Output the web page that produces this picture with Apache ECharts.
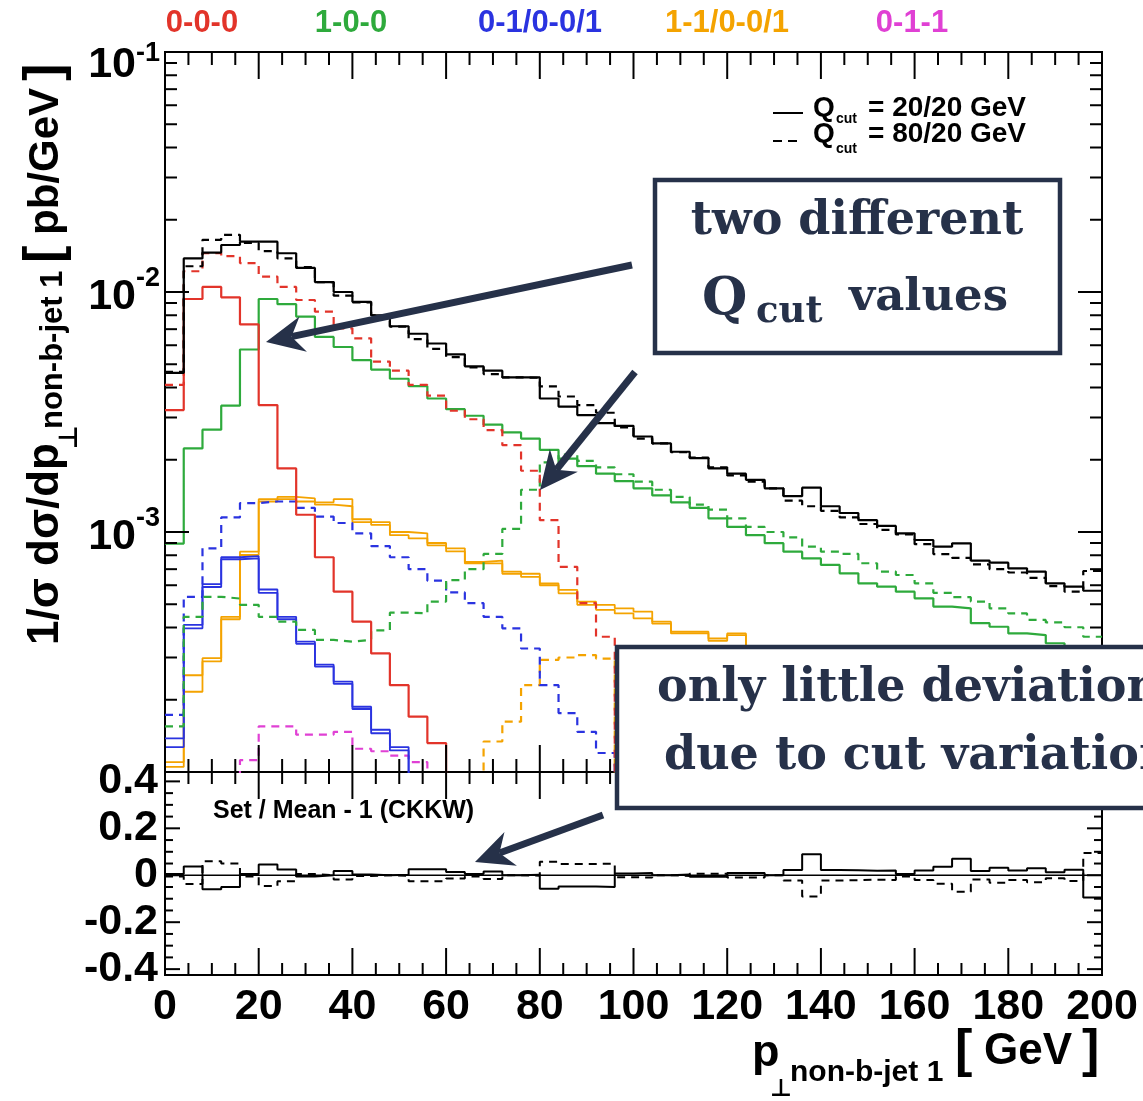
<!DOCTYPE html>
<html>
<head>
<meta charset="utf-8">
<title>p_T non-b-jet 1</title>
<script src="https://cdn.jsdelivr.net/npm/echarts@6/dist/echarts.min.js"></script>
<style>
html, body { margin: 0; padding: 0; background: #fff; }
#main { width: 1143px; height: 1101px; }
</style>
</head>
<body>
<div id="main"></div>
<script>
// 50 bins of 4 GeV, 0..200 GeV
var BIN = 4;
var FLOOR = 1e-5; // bins below the plotted range

// Qcut = 20/20 GeV (solid) and 80/20 GeV (dashed)
var totalSolid = [4.6e-3, 1.38e-2, 1.46e-2, 1.57e-2, 1.62e-2, 1.62e-2, 1.45e-2, 1.26e-2, 1.10e-2, 1.00e-2,
  9.1e-3, 8.0e-3, 7.2e-3, 6.7e-3, 6.1e-3, 5.5e-3, 4.9e-3, 4.7e-3, 4.41e-3, 4.41e-3,
  3.6e-3, 3.33e-3, 3.07e-3, 2.84e-3, 2.77e-3, 2.50e-3, 2.34e-3, 2.16e-3, 2.03e-3, 1.84e-3,
  1.75e-3, 1.65e-3, 1.52e-3, 1.41e-3, 1.53e-3, 1.28e-3, 1.20e-3, 1.12e-3, 1.06e-3, 9.87e-4,
  9.26e-4, 8.69e-4, 8.97e-4, 7.6e-4, 7.45e-4, 7.06e-4, 6.84e-4, 6.11e-4, 5.92e-4, 5.69e-4];
var totalDashed = [4.65e-3, 1.28e-2, 1.65e-2, 1.73e-2, 1.60e-2, 1.48e-2, 1.38e-2, 1.27e-2, 1.10e-2, 9.65e-3,
  9.05e-3, 8.0e-3, 7.17e-3, 6.36e-3, 5.8e-3, 5.35e-3, 4.85e-3, 4.55e-3, 4.41e-3, 4.39e-3,
  4.04e-3, 3.67e-3, 3.38e-3, 3.14e-3, 2.73e-3, 2.45e-3, 2.34e-3, 2.15e-3, 2.04e-3, 1.86e-3,
  1.72e-3, 1.62e-3, 1.52e-3, 1.35e-3, 1.28e-3, 1.225e-3, 1.15e-3, 1.08e-3, 1.02e-3, 9.77e-4,
  8.9e-4, 8.09e-4, 7.8e-4, 7.33e-4, 7.0e-4, 6.78e-4, 6.44e-4, 5.95e-4, 5.64e-4, 6.88e-4];

// 0-0-0
var redSolid = [3.22e-3, 9.35e-3, 1.05e-2, 9.5e-3, 7.33e-3, 3.38e-3, 1.84e-3, 1.18e-3, 7.85e-4, 5.64e-4,
  4.23e-4, 3.12e-4, 2.30e-4, 1.70e-4, 1.32e-4, null, null, null, null, null,
  null, null, null, null, null, null, null, null, null, null,
  null, null, null, null, null, null, null, null, null, null,
  null, null, null, null, null, null, null, null, null, null];
var redDashed = [4.1e-3, 1.22e-2, 1.45e-2, 1.41e-2, 1.32e-2, 1.16e-2, 1.05e-2, 9.26e-3, 8.28e-3, 7.06e-3,
  6.41e-3, 5.13e-3, 4.7e-3, 4.1e-3, 3.7e-3, 3.2e-3, 2.95e-3, 2.66e-3, 2.30e-3, 1.80e-3,
  1.12e-3, 7.16e-4, 5.05e-4, 3.66e-4, null, null, null, null, null, null,
  null, null, null, null, null, null, null, null, null, null,
  null, null, null, null, null, null, null, null, null, null];

// 1-0-0
var greenSolid = [8.95e-4, 2.23e-3, 2.67e-3, 3.36e-3, 5.76e-3, 9.35e-3, 8.9e-3, 7.9e-3, 6.5e-3, 5.9e-3,
  5.2e-3, 4.75e-3, 4.35e-3, 4.05e-3, 3.6e-3, 3.25e-3, 3.05e-3, 2.8e-3, 2.6e-3, 2.45e-3,
  2.2e-3, 2.02e-3, 1.88e-3, 1.75e-3, 1.63e-3, 1.52e-3, 1.42e-3, 1.33e-3, 1.26e-3, 1.14e-3,
  1.05e-3, 9.7e-4, 8.98e-4, 8.28e-4, 7.76e-4, 7.29e-4, 6.73e-4, 6.11e-4, 5.92e-4, 5.64e-4,
  5.29e-4, 4.89e-4, 4.81e-4, 4.17e-4, 4.03e-4, 3.78e-4, 3.72e-4, 3.44e-4, 3.3e-4, 3.15e-4];
var greenDashed = [1.55e-4, 4.43e-4, 5.37e-4, 5.28e-4, 4.97e-4, 4.43e-4, 4.23e-4, 3.91e-4, 3.55e-4, 3.49e-4,
  3.55e-4, 3.89e-4, 4.61e-4, 4.58e-4, 5.13e-4, 6.3e-4, 7.0e-4, 8.1e-4, 1.03e-3, 1.5e-3,
  1.95e-3, 2.1e-3, 1.98e-3, 1.86e-3, 1.74e-3, 1.62e-3, 1.5e-3, 1.4e-3, 1.30e-3, 1.24e-3,
  1.14e-3, 1.05e-3, 1.0e-3, 9.5e-4, 8.69e-4, 8.28e-4, 8.1e-4, 7.41e-4, 6.84e-4, 6.62e-4,
  6.11e-4, 5.58e-4, 5.35e-4, 5.13e-4, 4.81e-4, 4.58e-4, 4.3e-4, 4.2e-4, 4.01e-4, 3.66e-4];

// 0-1/0-0/1 (solid drawn as two close histograms)
var blueSolidA = [1.38e-4, 4.1e-4, 6.07e-4, 7.85e-4, 7.94e-4, 5.76e-4, 4.43e-4, 3.49e-4, 2.8e-4, 2.38e-4,
  1.87e-4, 1.5e-4, 1.27e-4, null, null, null, null, null, null, null,
  null, null, null, null, null, null, null, null, null, null,
  null, null, null, null, null, null, null, null, null, null,
  null, null, null, null, null, null, null, null, null, null];
var blueSolidB = [1.27e-4, 3.97e-4, 5.9e-4, 7.7e-4, 7.76e-4, 5.58e-4, 4.33e-4, 3.42e-4, 2.75e-4, 2.33e-4,
  1.83e-4, 1.45e-4, 1.23e-4, null, null, null, null, null, null, null,
  null, null, null, null, null, null, null, null, null, null,
  null, null, null, null, null, null, null, null, null, null,
  null, null, null, null, null, null, null, null, null, null];
var blueDashed = [1.73e-4, 5.37e-4, 8.55e-4, 1.15e-3, 1.32e-3, 1.34e-3, 1.34e-3, 1.26e-3, 1.16e-3, 1.09e-3,
  9.87e-4, 8.74e-4, 7.85e-4, 7.0e-4, 6.27e-4, 5.6e-4, 5.05e-4, 4.43e-4, 3.97e-4, 3.27e-4,
  2.30e-4, 1.76e-4, 1.47e-4, 1.2e-4, null, null, null, null, null, null,
  null, null, null, null, null, null, null, null, null, null,
  null, null, null, null, null, null, null, null, null, null];

// 1-1/0-0/1
var orangeSolidA = [1.1e-4, 2.53e-4, 2.98e-4, 4.43e-4, 8.28e-4, 1.37e-3, 1.40e-3, 1.38e-3, 1.33e-3, 1.37e-3,
  1.13e-3, 1.1e-3, 1.0e-3, 9.87e-4, 9.0e-4, 8.55e-4, 7.5e-4, 7.6e-4, 6.84e-4, 6.7e-4,
  6.1e-4, 5.74e-4, 5.13e-4, 4.97e-4, 4.81e-4, 4.66e-4, 4.23e-4, 3.84e-4, 3.84e-4, 3.6e-4,
  3.78e-4, null, null, null, null, null, null, null, null, null,
  null, null, null, null, null, null, null, null, null, null];
var orangeSolidB = [1.05e-4, 2.16e-4, 2.89e-4, 4.33e-4, 8.02e-4, 1.34e-3, 1.37e-3, 1.34e-3, 1.30e-3, 1.28e-3,
  1.1e-3, 1.07e-3, 9.7e-4, 9.4e-4, 8.8e-4, 8.3e-4, 7.4e-4, 7.4e-4, 6.7e-4, 6.5e-4,
  6.0e-4, 5.55e-4, 4.97e-4, 4.74e-4, 4.58e-4, 4.37e-4, 4.15e-4, 3.78e-4, 3.78e-4, 3.52e-4,
  3.72e-4, null, null, null, null, null, null, null, null, null,
  null, null, null, null, null, null, null, null, null, null];
var orangeDashed = [null, null, null, null, null, null, null, null, null, null,
  null, null, null, null, null, null, null, 1.34e-4, 1.62e-4, 2.3e-4,
  2.93e-4, 3.0e-4, 3.07e-4, 2.97e-4, null, null, null, null, null, null,
  null, null, null, null, null, null, null, null, null, null,
  null, null, null, null, null, null, null, null, null, null];

// 0-1-1
var magentaDashed = [null, null, null, null, 1.12e-4, 1.55e-4, 1.55e-4, 1.43e-4, 1.43e-4, 1.47e-4,
  1.25e-4, 1.22e-4, 1.17e-4, 1.1e-4, null, null, null, null, null, null,
  null, null, null, null, null, null, null, null, null, null,
  null, null, null, null, null, null, null, null, null, null,
  null, null, null, null, null, null, null, null, null, null];

// Set / Mean - 1 (CKKW)
var ratioSolid = [0.005, 0.037, -0.06, -0.05, 0.005, 0.046, 0.025, -0.005, 0.0, 0.018,
  0.003, 0.0, 0.002, 0.026, 0.026, 0.014, 0.005, 0.016, 0.0, 0.002,
  -0.058, -0.048, -0.048, -0.05, 0.008, 0.01, 0.0, 0.003, -0.006, -0.006,
  0.01, 0.01, 0.0, 0.022, 0.09, 0.022, 0.021, 0.019, 0.02, 0.005,
  0.02, 0.036, 0.07, 0.018, 0.032, 0.02, 0.03, 0.013, 0.024, -0.095];
var ratioDashed = [-0.005, -0.037, 0.06, 0.05, -0.005, -0.046, -0.025, 0.005, 0.0, -0.018,
  -0.003, 0.0, -0.002, -0.026, -0.026, -0.014, -0.005, -0.016, 0.0, -0.002,
  0.058, 0.048, 0.048, 0.05, -0.008, -0.01, 0.0, -0.003, 0.006, 0.006,
  -0.01, -0.01, 0.0, -0.022, -0.09, -0.022, -0.021, -0.019, -0.02, -0.005,
  -0.02, -0.036, -0.07, -0.018, -0.032, -0.02, -0.03, -0.013, -0.024, 0.095];

var topLabels = ['0-0-0', '1-0-0', '0-1/0-0/1', '1-1/0-0/1', '0-1-1'];
var xMajor = [0, 20, 40, 60, 80, 100, 120, 140, 160, 180, 200];
var ratioMajor = [-0.4, -0.2, 0, 0.2, 0.4];

var FONT = '"Liberation Sans", Arial, "DejaVu Sans", sans-serif';
var SERIF = '"DejaVu Serif", "Liberation Serif", serif';
var NAVY = '#263149';
var RED = '#e2342a', GREEN = '#2eaa3c', BLUE = '#2a33e0', ORANGE = '#f4a300', MAGENTA = '#e040d4';
var DASH = [8, 6];

var xMinor = [];
for (var i = 0; i <= 200; i += 5) { if (i % 20) xMinor.push(i); }
var yMajor = [1e-4, 1e-3, 1e-2, 1e-1];
var yMinor = [];
[1e-4, 1e-3, 1e-2].forEach(function (d) {
  for (var m = 2; m <= 9; m++) yMinor.push(d * m);
});
var ratioMinor = [];
for (var k = -8; k <= 8; k++) { if (k % 4) ratioMinor.push(k * 0.05); }

function toSteps(vals) {
  var pts = [];
  for (var i = 0; i < vals.length; i++) {
    var v = vals[i] == null ? FLOOR : vals[i];
    pts.push([i * BIN, v], [(i + 1) * BIN, v]);
  }
  return pts;
}

function hist(vals, color, dashed, width, grid) {
  return {
    type: 'line', xAxisIndex: grid || 0, yAxisIndex: grid || 0,
    data: toSteps(vals), symbol: 'none', clip: true, silent: true,
    lineStyle: { color: color, width: width || 2.2, type: dashed ? DASH : 'solid' }
  };
}

function tickMarks(gi, axis, vals, len, yRef) {
  return {
    type: 'custom', xAxisIndex: gi, yAxisIndex: gi, silent: true, z: 4,
    data: vals.map(function (v) { return axis === 'x' ? [v, yRef] : [0, v]; }),
    renderItem: function (params, api) {
      var cs = params.coordSys;
      var p = api.coord([api.value(0), api.value(1)]);
      var st = function () { return { stroke: '#000', lineWidth: 2 }; };
      if (axis === 'x') {
        var b = cs.y + cs.height;
        return { type: 'group', children: [
          { type: 'line', shape: { x1: p[0], y1: b, x2: p[0], y2: b - len }, style: st() },
          { type: 'line', shape: { x1: p[0], y1: cs.y, x2: p[0], y2: cs.y + len }, style: st() }
        ] };
      }
      var r = cs.x + cs.width;
      return { type: 'group', children: [
        { type: 'line', shape: { x1: cs.x, y1: p[1], x2: cs.x + len, y2: p[1] }, style: st() },
        { type: 'line', shape: { x1: r, y1: p[1], x2: r - len, y2: p[1] }, style: st() }
      ] };
    }
  };
}

function txt(x, y, s, font, color, align) {
  return { type: 'text', x: x, y: y, z: 100, silent: true,
    style: { text: s, font: font, fill: color || '#000', align: align || 'left', verticalAlign: 'middle' } };
}

function arrow(x1, y1, x2, y2) {
  var dx = x2 - x1, dy = y2 - y1, len = Math.sqrt(dx * dx + dy * dy);
  var ux = dx / len, uy = dy / len, nx = -uy, ny = ux;
  var L = 38, W = 18, N = 26;
  var bx = x2 - ux * L, by = y2 - uy * L;
  return [
    { type: 'line', z: 100, silent: true,
      shape: { x1: x1, y1: y1, x2: x2 - ux * N, y2: y2 - uy * N },
      style: { stroke: NAVY, lineWidth: 7 } },
    { type: 'polygon', z: 101, silent: true,
      shape: { points: [[x2, y2], [bx + nx * W, by + ny * W], [x2 - ux * N, y2 - uy * N], [bx - nx * W, by - ny * W]] },
      style: { fill: NAVY } }
  ];
}

var chart = echarts.init(document.getElementById('main'));

var labelColors = [RED, GREEN, BLUE, ORANGE, MAGENTA];
var labelX = [202, 351, 540, 727, 912];
var graphics = [];
topLabels.forEach(function (t, i) {
  graphics.push(txt(labelX[i], 23, t, 'bold 31px ' + FONT, labelColors[i], 'center'));
});

// Qcut legend
graphics.push({ type: 'line', z: 100, shape: { x1: 773, y1: 113, x2: 803, y2: 113 }, style: { stroke: '#000', lineWidth: 2 } });
graphics.push({ type: 'line', z: 100, shape: { x1: 773, y1: 141, x2: 800, y2: 141 }, style: { stroke: '#000', lineWidth: 2, lineDash: [9, 6] } });
graphics.push(txt(813, 108, 'Q', 'bold 28px ' + FONT));
graphics.push(txt(836, 119, 'cut', 'bold 14px ' + FONT));
graphics.push(txt(868, 108, '= 20/20 GeV', 'bold 28px ' + FONT));
graphics.push(txt(813, 134, 'Q', 'bold 28px ' + FONT));
graphics.push(txt(836, 149, 'cut', 'bold 14px ' + FONT));
graphics.push(txt(868, 134, '= 80/20 GeV', 'bold 28px ' + FONT));

graphics.push(txt(213, 811, 'Set / Mean - 1 (CKKW)', 'bold 25px ' + FONT));

// y-axis title, rotated
graphics.push({
  type: 'group', x: 62, y: 645, rotation: Math.PI / 2, z: 100, silent: true,
  children: [
    { type: 'text', x: 0, y: -16, style: { text: '1/\u03c3 d\u03c3/dp', font: 'bold 44px ' + FONT, fill: '#000', verticalAlign: 'middle' } },
    { type: 'text', x: 196, y: 8, style: { text: '\u22a5', font: 'bold 26px ' + FONT, fill: '#000', verticalAlign: 'middle' } },
    { type: 'text', x: 216, y: -9, style: { text: 'non-b-jet 1', font: 'bold 31px ' + FONT, fill: '#000', verticalAlign: 'middle' } },
    { type: 'text', x: 382, y: -16, style: { text: '[', font: 'bold 52px ' + FONT, fill: '#000', verticalAlign: 'middle' } },
    { type: 'text', x: 410, y: -16, style: { text: 'pb/GeV', font: 'bold 42px ' + FONT, fill: '#000', verticalAlign: 'middle' } },
    { type: 'text', x: 564, y: -16, style: { text: ']', font: 'bold 52px ' + FONT, fill: '#000', verticalAlign: 'middle' } }
  ]
});

// x-axis title
graphics.push(txt(752, 1054, 'p', 'bold 45px ' + FONT));
graphics.push(txt(770, 1089, '\u22a5', 'bold 24px ' + FONT));
graphics.push(txt(790, 1073, 'non-b-jet 1', 'bold 30px ' + FONT));
graphics.push(txt(955, 1052, '[', 'bold 52px ' + FONT));
graphics.push(txt(984, 1052, 'GeV', 'bold 44px ' + FONT));
graphics.push(txt(1082, 1052, ']', 'bold 52px ' + FONT));

// annotation boxes
graphics.push({ type: 'rect', z: 99, silent: true, shape: { x: 655, y: 180, width: 405, height: 173 },
  style: { fill: '#fff', stroke: NAVY, lineWidth: 4.5 } });
graphics.push(txt(857, 222, 'two different', 'bold 46px ' + SERIF, NAVY, 'center'));
graphics.push(txt(702, 300, 'Q', 'bold 52px ' + SERIF, NAVY));
graphics.push(txt(756, 312, 'cut', 'bold 37px ' + SERIF, NAVY));
graphics.push(txt(849, 298, 'values', 'bold 45px ' + SERIF, NAVY));

graphics.push({ type: 'rect', z: 99, silent: true, shape: { x: 617, y: 647, width: 600, height: 161 },
  style: { fill: '#fff', stroke: NAVY, lineWidth: 4.5 } });
graphics.push(txt(657, 689, 'only little deviation', 'bold 46px ' + SERIF, NAVY));
graphics.push(txt(664, 757, 'due to cut variation', 'bold 46px ' + SERIF, NAVY));

graphics = graphics.concat(arrow(632, 265, 266, 342));
graphics = graphics.concat(arrow(635, 372, 540, 490));
graphics = graphics.concat(arrow(603, 815, 475, 862));

var labelFont = { fontSize: 43, fontWeight: 'bold', fontFamily: FONT, color: '#000' };
var supFont = { fontSize: 27, fontWeight: 'bold', fontFamily: FONT, color: '#000', lineHeight: 27, verticalAlign: 'top' };

var option = {
  animation: false,
  backgroundColor: '#fff',
  grid: [
    { left: 165, top: 52, width: 937, height: 720, show: true, borderColor: '#000', borderWidth: 2 },
    { left: 165, top: 772, width: 937, height: 203, show: true, borderColor: '#000', borderWidth: 2 }
  ],
  xAxis: [
    { gridIndex: 0, type: 'value', min: 0, max: 200, interval: 20,
      axisLabel: { show: false }, axisLine: { show: false }, axisTick: { show: false }, splitLine: { show: false } },
    { gridIndex: 1, type: 'value', min: 0, max: 200, interval: 20,
      axisLabel: Object.assign({ margin: 11 }, labelFont),
      axisLine: { show: false }, axisTick: { show: false }, splitLine: { show: false } }
  ],
  yAxis: [
    { gridIndex: 0, type: 'log', logBase: 10, min: 1e-4, max: 1e-1,
      axisLine: { show: false }, axisTick: { show: false }, splitLine: { show: false },
      axisLabel: {
        margin: 5,
        formatter: function (v) {
          var e = Math.round(Math.log(v) / Math.LN10);
          if (e <= -4) return '';
          if (e === -1) return '{bt|10}{st|' + e + '}';
          return '{b|10}{s|' + e + '}';
        },
        rich: {
          b: Object.assign({}, labelFont, { lineHeight: 53, verticalAlign: 'bottom' }),
          s: supFont,
          bt: Object.assign({}, labelFont, { lineHeight: 69, verticalAlign: 'bottom' }),
          st: Object.assign({}, supFont, { padding: [23, 0, 0, 0] })
        }
      } },
    { gridIndex: 1, type: 'value', min: -0.425, max: 0.44,
      axisLine: { show: false }, axisTick: { show: false }, splitLine: { show: false },
      axisLabel: Object.assign({
        margin: 7,
        formatter: function (v) {
          var q = v / 0.2;
          if (Math.abs(q - Math.round(q)) > 1e-6) return '';
          return String(Math.round(v * 10) / 10);
        }
      }, labelFont) }
  ],
  graphic: graphics,
  series: [
    hist(magentaDashed, MAGENTA, true),
    hist(orangeDashed, ORANGE, true),
    hist(orangeSolidA, ORANGE, false, 1.8),
    hist(orangeSolidB, ORANGE, false, 1.8),
    hist(blueDashed, BLUE, true),
    hist(blueSolidA, BLUE, false, 1.8),
    hist(blueSolidB, BLUE, false, 1.8),
    hist(greenDashed, GREEN, true),
    hist(greenSolid, GREEN, false),
    hist(redDashed, RED, true),
    hist(redSolid, RED, false),
    hist(totalDashed, '#000', true),
    hist(totalSolid, '#000', false),
    // ratio panel
    {
      type: 'line', xAxisIndex: 1, yAxisIndex: 1, symbol: 'none', silent: true,
      data: [[0, 0], [200, 0]], lineStyle: { color: '#000', width: 1.5 }
    },
    hist(ratioDashed, '#000', true, 2, 1),
    hist(ratioSolid, '#000', false, 2, 1),
    // tick marks
    tickMarks(0, 'x', xMajor, 27, 1e-2),
    tickMarks(0, 'x', xMinor, 13, 1e-2),
    tickMarks(0, 'y', yMajor, 24, 0),
    tickMarks(0, 'y', yMinor, 12, 0),
    tickMarks(1, 'x', xMajor, 27, 0),
    tickMarks(1, 'x', xMinor, 12, 0),
    tickMarks(1, 'y', ratioMajor, 15, 0),
    tickMarks(1, 'y', ratioMinor, 8, 0)
  ]
};

chart.setOption(option);
</script>
</body>
</html>
